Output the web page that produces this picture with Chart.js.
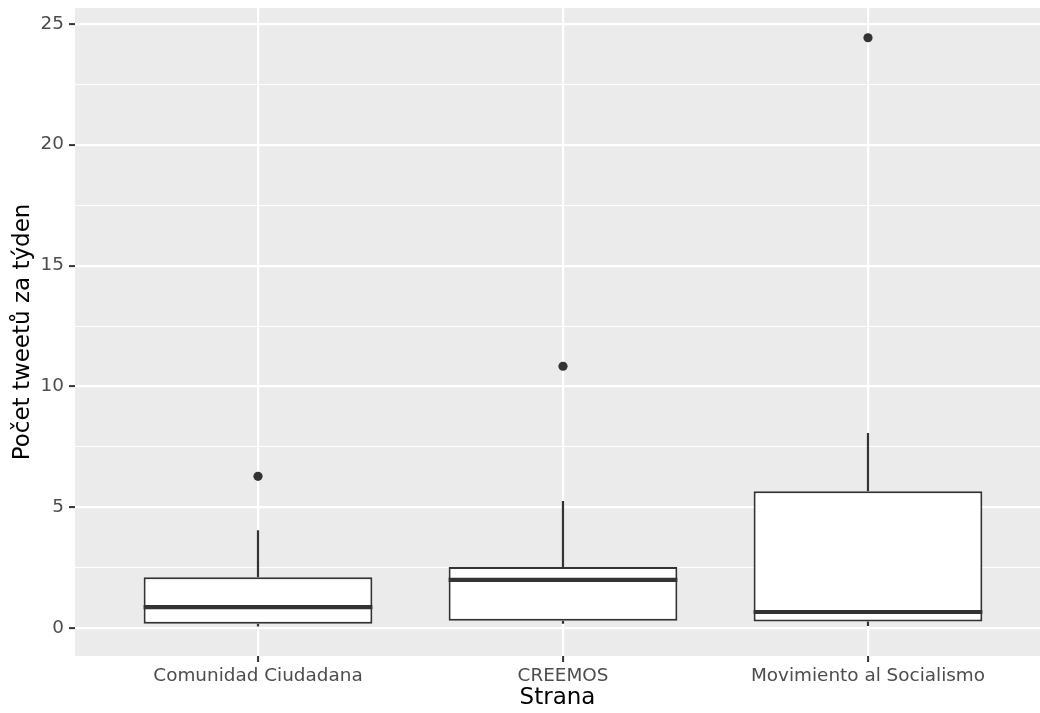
<!DOCTYPE html>
<html>
<head>
<meta charset="utf-8">
<title>Počet tweetů za týden</title>
<script src="https://cdn.jsdelivr.net/npm/chart.js@4.4.1/dist/chart.umd.min.js"></script>
<style>
  html, body { margin: 0; padding: 0; background: #ffffff; }
  canvas { display: block; }
</style>
</head>
<body>
<canvas id="chart" width="1040" height="713"></canvas>
<script>
// Data
const parties = ['Comunidad Ciudadana', 'CREEMOS', 'Movimiento al Socialismo'];
const lowerWhisker = [0.08, 0.19, 0.10];
const q1 = [0.19, 0.32, 0.29];
const median = [0.88, 2.01, 0.68];
const q3 = [2.12, 2.54, 5.67];
const upperWhisker = [4.06, 5.27, 8.08];
const outliers = [[6.29], [10.84], [24.42]];

const yTicks = [0, 2.5, 5, 7.5, 10, 12.5, 15, 17.5, 20, 22.5, 25];
const xTicks = [1, 2, 3];

const lineColor = '#333333';
const fontFamily = "'DejaVu Sans', 'Liberation Sans', sans-serif";

// Outlier points
const outlierPoints = [];
outliers.forEach((vals, i) => {
  vals.forEach(v => outlierPoints.push({ x: i + 1, y: v }));
});

// Panel background, whiskers and median lines
const boxExtras = {
  id: 'boxExtras',
  beforeDraw(chart) {
    const { ctx, chartArea } = chart;
    ctx.save();
    ctx.fillStyle = '#EBEBEB';
    ctx.fillRect(chartArea.left, chartArea.top, chartArea.width, chartArea.height);
    ctx.restore();
  },
  beforeDatasetsDraw(chart) {
    const { ctx } = chart;
    const x = chart.scales.x;
    const y = chart.scales.y;
    ctx.save();
    ctx.strokeStyle = lineColor;
    ctx.lineWidth = 2.2;
    parties.forEach((p, i) => {
      const px = x.getPixelForValue(i + 1);
      ctx.beginPath();
      ctx.moveTo(px, y.getPixelForValue(upperWhisker[i]));
      ctx.lineTo(px, y.getPixelForValue(q3[i]));
      ctx.moveTo(px, y.getPixelForValue(q1[i]));
      ctx.lineTo(px, y.getPixelForValue(lowerWhisker[i]));
      ctx.stroke();
    });
    ctx.restore();
  },
  afterDatasetsDraw(chart) {
    const { ctx } = chart;
    const y = chart.scales.y;
    const meta = chart.getDatasetMeta(0);
    ctx.save();
    ctx.strokeStyle = lineColor;
    ctx.lineWidth = 4.2;
    meta.data.forEach((bar, i) => {
      const half = bar.width / 2;
      const py = y.getPixelForValue(median[i]);
      ctx.beginPath();
      ctx.moveTo(bar.x - half, py);
      ctx.lineTo(bar.x + half, py);
      ctx.stroke();
    });
    ctx.restore();
  }
};

new Chart(document.getElementById('chart'), {
  type: 'bar',
  data: {
    datasets: [
      {
        label: 'box',
        data: parties.map((p, i) => ({ x: i + 1, y: [q1[i], q3[i]] })),
        backgroundColor: '#ffffff',
        borderColor: lineColor,
        borderWidth: 2,
        borderSkipped: false,
        barPercentage: 0.75,
        categoryPercentage: 1,
        grouped: false
      },
      {
        type: 'scatter',
        label: 'outliers',
        data: outlierPoints,
        pointRadius: 4.6,
        pointBackgroundColor: lineColor,
        pointBorderColor: lineColor,
        pointBorderWidth: 0
      }
    ]
  },
  options: {
    responsive: false,
    animation: false,
    layout: { autoPadding: false, padding: { top: 8, right: 0, left: 0, bottom: 0 } },
    plugins: {
      legend: { display: false },
      tooltip: { enabled: false }
    },
    scales: {
      x: {
        type: 'linear',
        min: 0.4,
        max: 3.564,
        offset: false,
        afterBuildTicks: scale => { scale.ticks = xTicks.map(v => ({ value: v })); },
        afterFit: scale => {
          scale.height = 57;
          scale.paddingLeft = 0;
          scale.paddingRight = 0;
        },
        border: { display: false },
        grid: {
          offset: false,
          color: '#ffffff',
          lineWidth: 2.2,
          tickColor: lineColor,
          tickWidth: 2,
          tickLength: 6
        },
        ticks: {
          padding: 3,
          color: '#4D4D4D',
          font: { family: fontFamily, size: 18.4 },
          callback: v => parties[v - 1] || ''
        },
        title: {
          display: true,
          text: 'Strana',
          color: '#000000',
          font: { family: fontFamily, size: 23 },
          padding: { top: 0, bottom: 1 }
        }
      },
      y: {
        type: 'linear',
        min: -1.14,
        max: 25.65,
        afterBuildTicks: scale => { scale.ticks = yTicks.map(v => ({ value: v })); },
        afterFit: scale => {
          scale.width = 75;
          scale.paddingTop = 0;
          scale.paddingBottom = 0;
        },
        border: { display: false },
        grid: {
          color: '#ffffff',
          lineWidth: ctx => (ctx.tick && ctx.tick.value % 5 === 0 ? 2.2 : 1.1),
          tickColor: ctx => (ctx.tick && ctx.tick.value % 5 === 0 ? lineColor : 'rgba(0,0,0,0)'),
          tickWidth: 2,
          tickLength: 6
        },
        ticks: {
          padding: 5,
          color: '#4D4D4D',
          font: { family: fontFamily, size: 18.4 },
          callback: v => (v % 5 === 0 ? String(v) : '')
        },
        title: {
          display: true,
          text: 'Počet tweetů za týden',
          color: '#000000',
          font: { family: fontFamily, size: 23 },
          padding: { top: 9, bottom: 0 }
        }
      }
    }
  },
  plugins: [boxExtras]
});
</script>
</body>
</html>
